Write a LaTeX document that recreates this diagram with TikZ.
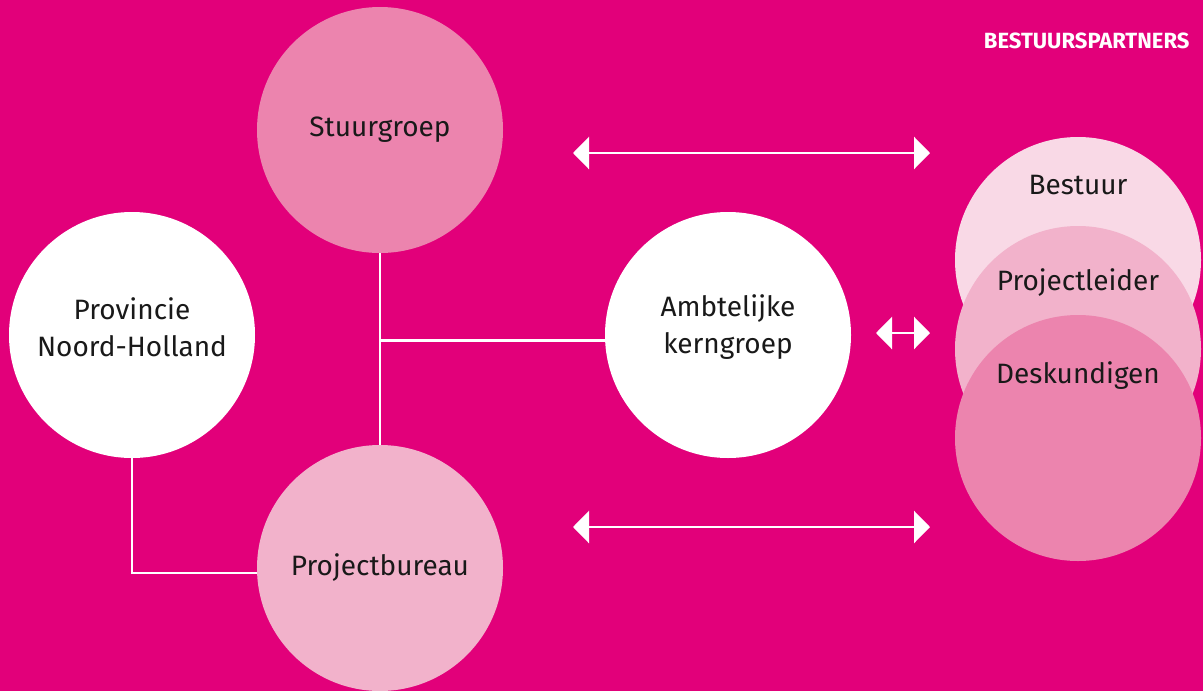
\documentclass[tikz,border=0pt]{standalone}
\usepackage{fontspec}
\setmainfont{Fira Sans}
\usetikzlibrary{arrows.meta, calc}

\definecolor{magenta}{HTML}{E2007A}
\definecolor{roze}{HTML}{EC84AE}
\definecolor{lichtroze}{HTML}{F2B2CB}
\definecolor{bleekroze}{HTML}{F9D9E6}

\begin{document}
\begin{tikzpicture}[x = 1pt, y = -1pt,
    bol/.style = {circle, minimum size = 246pt, inner sep = 0pt},
    tekst/.style = {align = center, text = black!90, font = \fontsize{28}{37}\selectfont},
    lijn/.style = {white, line width = 2.5pt},
    pijl/.style = {white, line width = 2.5pt, {Triangle[width = 32pt, length = 16pt]}-{Triangle[width = 32pt, length = 16pt]}}]

%background
        \fill[magenta] (0,0) rectangle (1203,691);
        \node at (1193,41) [anchor = east, text = white, font = \fontsize{22}{24}\selectfont\bfseries] (titel) {BESTUURSPARTNERS};

%circles left
        \node[bol, fill = roze] (stuur) at (380,130) {};
        \node[bol, fill = white] (prov) at (132,335) {};
        \node[bol, fill = lichtroze] (bureau) at (380,568) {};
        \node[bol, fill = white] (ambt) at (728,335) {};
        \node[tekst] (stuurtekst) at (stuur.center) {Stuurgroep};
        \node[tekst] (provtekst) at ($(prov.center)+(0,-8)$) {Provincie\\Noord-Holland};
        \node[tekst] (bureautekst) at (bureau.center) {Projectbureau};
        \node[tekst] (ambttekst) at ($(ambt.center)+(0,-8)$) {Ambtelijke\\kerngroep};

%circles right
        \node[bol, fill = bleekroze] (bestuur) at (1078,260) {};
        \node[bol, fill = lichtroze] (leider) at (1078,349) {};
        \node[bol, fill = roze] (deskundig) at (1078,438) {};
        \node[tekst] (bestuurtekst) at ($(bestuur.center)+(0,-75)$) {Bestuur};
        \node[tekst] (leidertekst) at ($(leider.center)+(0,-66)$) {Projectleider};
        \node[tekst] (deskundigtekst) at ($(deskundig.center)+(0,-62)$) {Deskundigen};

%lines
        \draw[lijn] (stuur.south) -- (bureau.north) coordinate[pos = 0.455] (M);
        \draw[lijn] (M) -- (M -| ambt.west);
        \draw[lijn] (prov.south) |- ($(bureau.west)+(0,5)$);

%arrows
        \coordinate (A1) at (573,153);
        \coordinate (B1) at (930,153);
        \coordinate (A2) at (876,333);
        \coordinate (B2) at (930,333);
        \coordinate (A3) at (573,527);
        \coordinate (B3) at (930,527);
        \draw[pijl] (A1) -- (B1);
        \draw[pijl] (A2) -- (B2);
        \draw[pijl] (A3) -- (B3);
\end{tikzpicture}
\end{document}
